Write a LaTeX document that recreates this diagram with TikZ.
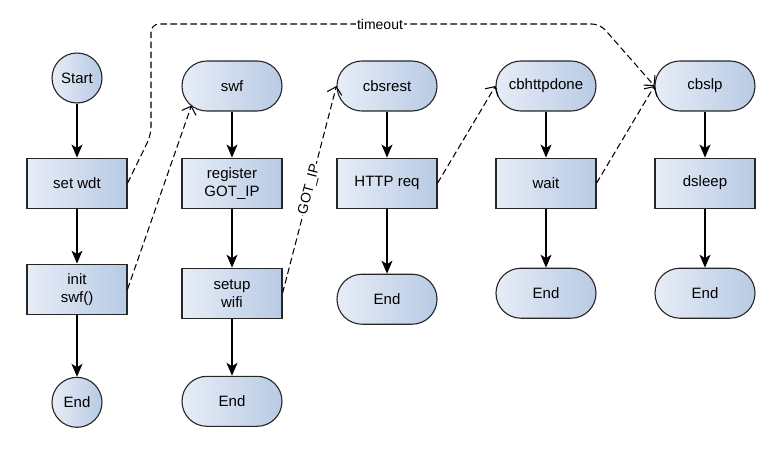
\documentclass[tikz,border=0pt]{standalone}
\usepackage{fontspec}
\setmainfont{Liberation Sans}
\usetikzlibrary{positioning,arrows.meta,shapes}

\definecolor{boxlight}{RGB}{231,237,247}
\definecolor{boxdark}{RGB}{184,202,228}

\begin{document}
\begin{tikzpicture}[x=1pt,y=1pt,
  base/.style={draw=black!85,line width=1.1pt,left color=boxlight,right color=boxdark,
               font=\fontsize{15}{18}\selectfont,align=center,inner sep=0pt},
  term/.style={base,rectangle,rounded corners=24.9pt,minimum width=100pt,minimum height=50pt},
  proc/.style={base,rectangle,minimum width=100pt,minimum height=50pt},
  endpt/.style={base,circle,minimum size=50pt},
  flow/.style={-{Stealth[length=13pt,width=11pt,inset=3.5pt]},line width=1.1pt},
  jump/.style={-{Straight Barb[length=7pt,width=15pt]},line width=1.05pt,dash pattern=on 6.5pt off 3.5pt},
  lbl/.style={fill=white,inner sep=1pt,font=\fontsize{14}{16}\selectfont}]
\useasboundingbox (0,0) rectangle (782,-464);

\node[endpt] (start) at (77,-78) {Start};
\node[proc,below=54pt of start] (wdt) {set wdt};
\node[proc,below=55pt of wdt] (init) {init\\swf()};
\node[endpt,below=62pt of init] (end1) {End};

\node[term] (swf) at (232,-86) {swf};
\node[proc,below=46pt of swf] (reg) {register\\GOT\_IP};
\node[proc,below=59pt of reg] (setup) {setup\\wifi};
\node[term,below=57pt of setup] (end2) {End};

\node[term] (cbsrest) at (387,-86) {cbsrest};
\node[proc,below=46pt of cbsrest] (req) {HTTP req};
\node[term,below=65pt of req] (end3) {End};

\node[term] (cbhttp) at (546,-86) {cbhttpdone};
\node[proc,below=46pt of cbhttp] (wait) {wait};
\node[term,below=59pt of wait] (end4) {End};

\node[term] (cbslp) at (705,-86) {cbslp};
\node[proc,below=46pt of cbslp] (dsleep) {dsleep};
\node[term,below=59pt of dsleep] (end5) {End};

\foreach \a/\b in {start/wdt,wdt/init,init/end1,swf/reg,reg/setup,setup/end2,
                   cbsrest/req,req/end3,cbhttp/wait,wait/end4,cbslp/dsleep,dsleep/end5}
  \draw[flow] (\a) -- (\b);

\draw[jump] (init.east) -- ([shift={(10pt,6pt)}]swf.south west);
\draw[jump] (setup.east) -- node[lbl,sloped]{GOT\_IP} (cbsrest.west);
\draw[jump] (req.east) -- (cbhttp.west);
\draw[jump] (wait.east) -- (cbslp.west);

\coordinate (tbend) at (151,-135);
\coordinate (ttop) at (600,-24);
\draw[jump,rounded corners=8pt] (wdt.east) -- (tbend) -- (tbend |- ttop)
  -- node[lbl,pos=0.51]{timeout} (ttop) -- (cbslp.west);
\end{tikzpicture}
\end{document}
